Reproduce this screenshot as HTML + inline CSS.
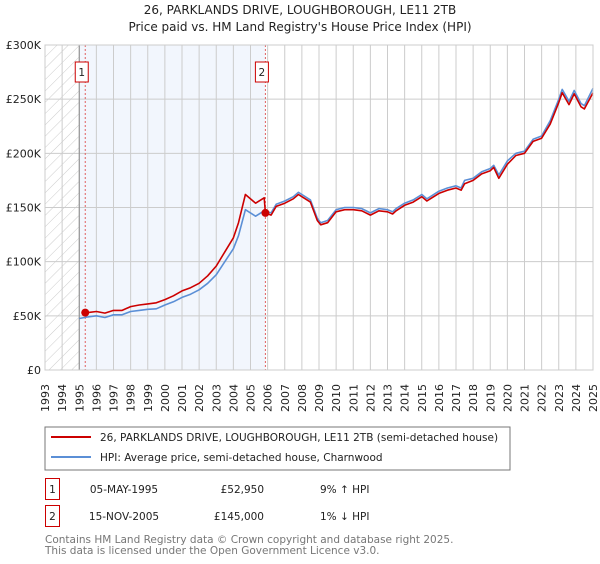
<!DOCTYPE html>
<html><head><meta charset="utf-8"><style>
body{margin:0;background:#fff;font-family:"DejaVu Sans","Liberation Sans",sans-serif;}
svg text{font-family:"DejaVu Sans","Liberation Sans",sans-serif;}
</style></head><body>
<svg id="chart" width="600" height="560" xmlns="http://www.w3.org/2000/svg">
<defs><pattern id="hatch" patternUnits="userSpaceOnUse" width="8" height="8" patternTransform="rotate(45)"><line x1="0" y1="0" x2="0" y2="8" stroke="#ccc" stroke-width="1"/></pattern></defs>
<text x="300" y="14" text-anchor="middle" font-size="12" fill="#222">26, PARKLANDS DRIVE, LOUGHBOROUGH, LE11 2TB</text>
<text x="300" y="31" text-anchor="middle" font-size="12" fill="#222">Price paid vs. HM Land Registry's House Price Index (HPI)</text>
<g id="plot"></g>
<g>
<rect x="45" y="427" width="465" height="43" fill="#fff" stroke="#777"/>
<line x1="51" y1="437" x2="91" y2="437" stroke="#cc0000" stroke-width="2"/>
<text x="100" y="441" font-size="10.5" fill="#222">26, PARKLANDS DRIVE, LOUGHBOROUGH, LE11 2TB (semi-detached house)</text>
<line x1="51" y1="457" x2="91" y2="457" stroke="#5b8fd6" stroke-width="2"/>
<text x="100" y="461" font-size="10.5" fill="#222">HPI: Average price, semi-detached house, Charnwood</text>
</g>
<g font-size="10.5" fill="#222">
<rect x="45.5" y="478.5" width="14" height="21" fill="#fff" stroke="#cc0000"/><text x="52.5" y="493" text-anchor="middle">1</text>
<text x="124" y="493" text-anchor="middle">05-MAY-1995</text><text x="264" y="493" text-anchor="end">£52,950</text><text x="320" y="493">9% ↑ HPI</text>
<rect x="45.5" y="505.5" width="14" height="21" fill="#fff" stroke="#cc0000"/><text x="52.5" y="520" text-anchor="middle">2</text>
<text x="124" y="520" text-anchor="middle">15-NOV-2005</text><text x="264" y="520" text-anchor="end">£145,000</text><text x="320" y="520">1% ↓ HPI</text>
</g>
<text x="45" y="543" font-size="10.5" fill="#777">Contains HM Land Registry data © Crown copyright and database right 2025.</text>
<text x="45" y="554" font-size="10.5" fill="#777">This data is licensed under the Open Government Licence v3.0.</text>
</svg>
<script>
const yTicks=[0,50000,100000,150000,200000,250000,300000];
const yTickLabels=["£0","£50K","£100K","£150K","£200K","£250K","£300K"];
const xYears=[1993,1994,1995,1996,1997,1998,1999,2000,2001,2002,2003,2004,2005,2006,2007,2008,2009,2010,2011,2012,2013,2014,2015,2016,2017,2018,2019,2020,2021,2022,2023,2024,2025];
const hpiT=[1995.0,1995.5,1996,1996.5,1997,1997.5,1998,1998.5,1999,1999.5,2000,2000.5,2001,2001.5,2002,2002.5,2003,2003.5,2004,2004.3,2004.7,2005.3,2005.8,2006.2,2006.5,2007,2007.5,2007.8,2008,2008.5,2008.9,2009.1,2009.5,2010,2010.5,2011,2011.5,2012,2012.5,2013,2013.3,2013.5,2014,2014.5,2015,2015.3,2015.5,2016,2016.5,2017,2017.3,2017.5,2018,2018.5,2019,2019.2,2019.5,2020,2020.5,2021,2021.5,2022,2022.5,2023,2023.2,2023.6,2023.9,2024.3,2024.5,2025];
const hpiV=[47.5,49,50,48.5,51,51,54,55,56,56.5,60,63,67,70,74,80,88,100,112,124,148,142,147,145,153,156,160,164,162,157,140,136,138,148,150,150,149,145,149,148,146,149,154,157,162,158,160,165,168,170,168,175,177,183,186,189,180,193,200,202,213,216,230,250,259,248,258,246,244,260];
const ppT=[1995.35,1995.5,1996,1996.5,1997,1997.5,1998,1998.5,1999,1999.5,2000,2000.5,2001,2001.5,2002,2002.5,2003,2003.5,2004,2004.3,2004.7,2005.3,2005.8,2005.87,2006.2,2006.5,2007,2007.5,2007.8,2008,2008.5,2008.9,2009.1,2009.5,2010,2010.5,2011,2011.5,2012,2012.5,2013,2013.3,2013.5,2014,2014.5,2015,2015.3,2015.5,2016,2016.5,2017,2017.3,2017.5,2018,2018.5,2019,2019.2,2019.5,2020,2020.5,2021,2021.5,2022,2022.5,2023,2023.2,2023.6,2023.9,2024.3,2024.5,2025];
const ppV=[52.95,53,54,52.5,55,55,58.5,60,61,62,65,68.5,73,76,80,87,96,109,122,136,162,154,159,145,143,151,154,158,162,160,155,138,134,136,146,148,148,147,143,147,146,144,147,152,155,160,156,158,163,166,168,166,172,175,181,184,187,177,190,198,200,211,214,227,247,256,245,255,243,241,256];
const sales=[{t:1995.35,v:52.95,label:"1"},{t:2005.87,v:145,label:"2"}];
const X0=45,X1=593,Y0=370,Y1=45;
const x=t=>X0+(t-1993)/(2025-1993)*(X1-X0);
const y=v=>Y0-v/300000*(Y0-Y1);
const g=document.getElementById('plot');
const NS="http://www.w3.org/2000/svg";
function mk(tag,attrs,parent){const e=document.createElementNS(NS,tag);for(const k in attrs)e.setAttribute(k,attrs[k]);(parent||g).appendChild(e);return e;}
let e;
e=mk('rect',{x:X0,y:Y1,width:x(1995)-X0,height:Y0-Y1,fill:'url(#hatch)'});


e=mk('rect',{x:x(1995),y:Y1,width:x(sales[1].t)-x(1995),height:Y0-Y1,fill:'#eef3fc',opacity:0.75});


xYears.forEach(yr=>{
 e=mk('line',{x1:x(yr),x2:x(yr),y1:Y1,y2:Y0,stroke:'#ccc','stroke-width':1});
 
 
 e=mk('text',{x:0,y:0,transform:`translate(${x(yr)+4},384) rotate(-90)`,'text-anchor':'end','font-size':11,fill:'#222'});
 e.textContent=yr;
 
 
});
yTicks.forEach((v,i)=>{
 e=mk('line',{x1:X0,x2:X1,y1:y(v),y2:y(v),stroke:'#ccc','stroke-width':1});
 
 
 e=mk('text',{x:41,y:y(v)+4,'text-anchor':'end','font-size':11,fill:'#222'});
 e.textContent=yTickLabels[i];
 
 
});
e=mk('line',{x1:x(1995),x2:x(1995),y1:Y1,y2:Y0,stroke:'#888','stroke-width':1});


sales.forEach(s=>{
 e=mk('line',{x1:x(s.t),x2:x(s.t),y1:Y1,y2:Y0,stroke:'#e06060','stroke-width':1,'stroke-dasharray':'2,2'});
 
 
});
function path(T,V,col,name){
 const d=T.map((t,i)=>(i?'L':'M')+x(t).toFixed(1)+','+y(V[i]*1000).toFixed(1)).join(' ');
 const p=mk('path',{d:d,fill:'none',stroke:col,'stroke-width':1.6,'stroke-linejoin':'round'});
 
 
}
path(hpiT,hpiV,'#5b8fd6','hpi-line');
path(ppT,ppV,'#cc0000','property-price-line');
sales.forEach(s=>{
 e=mk('circle',{cx:x(s.t),cy:y(s.v*1000),r:4,fill:'#cc0000'});
 
 
 const bx=x(s.t)-10;
 e=mk('rect',{x:bx,y:62,width:13,height:20,fill:'#fff',stroke:'#cc0000'});
 
 
 e=mk('text',{x:bx+6.5,y:76,'text-anchor':'middle','font-size':10.5,fill:'#222'});
 e.textContent=s.label;
 
 
});
e=mk('rect',{x:X0,y:Y1,width:X1-X0,height:Y0-Y1,fill:'none',stroke:'#ccc'});


</script>
</body></html>
